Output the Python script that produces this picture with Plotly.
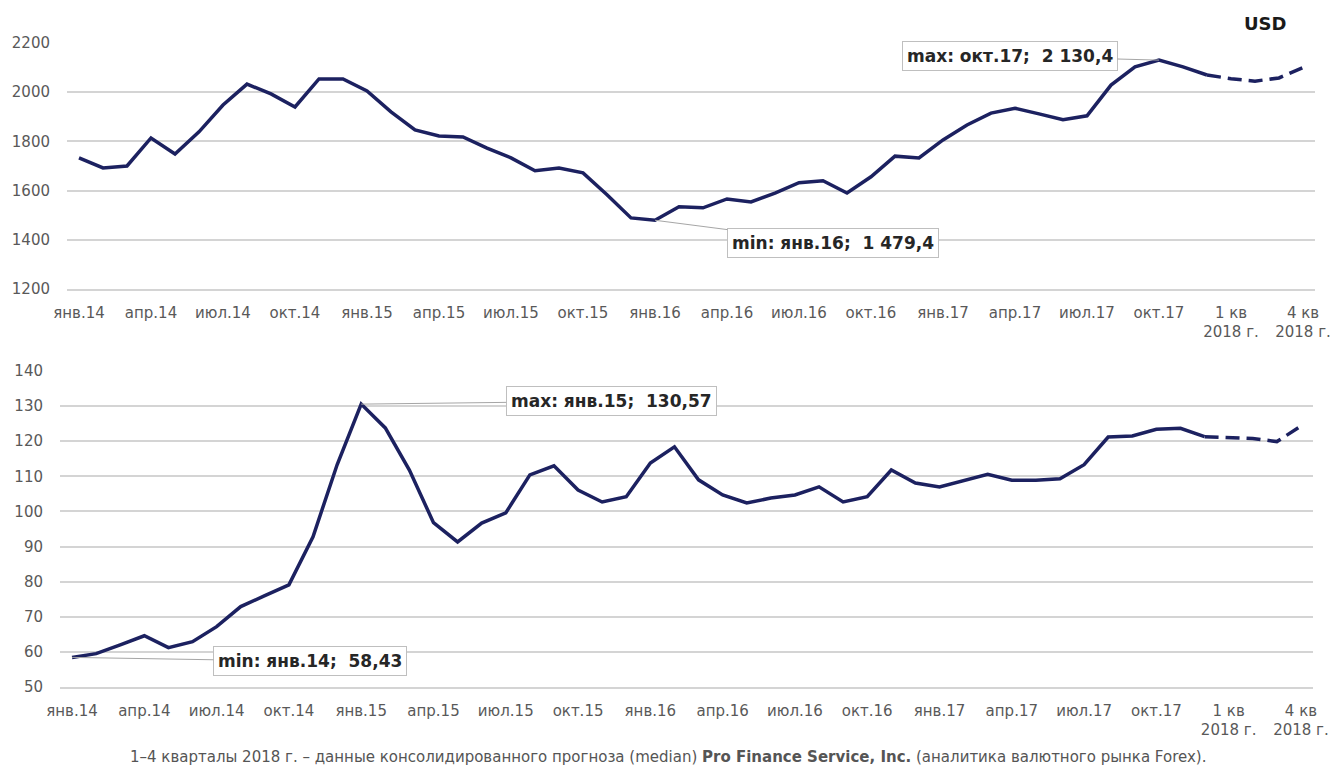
import plotly.graph_objects as go

# --- data -------------------------------------------------------------
months = ["янв.14", "апр.14", "июл.14", "окт.14", "янв.15", "апр.15", "июл.15", "окт.15",
          "янв.16", "апр.16", "июл.16", "окт.16", "янв.17", "апр.17", "июл.17", "окт.17",
          "1 кв<br>2018 г.", "4 кв<br>2018 г."]

# USD, monthly Jan 2014 - Dec 2017
usd_fact = [1733, 1692, 1700, 1814, 1749, 1839, 1948, 2033, 1993, 1940, 2054, 2054,
            2005, 1920, 1847, 1822, 1818, 1773, 1733, 1681, 1692, 1672, 1583, 1489,
            1479.4, 1534, 1530, 1566, 1554, 1590, 1632, 1640, 1590, 1656, 1740, 1733,
            1806, 1867, 1915, 1935, 1912, 1888, 1904, 2029, 2103, 2130.4, 2103, 2070]
# forecast 1-4 кв 2018
usd_fcst = [2055, 2045, 2058, 2100]

# second series, monthly Jan 2014 - Dec 2017
rub_fact = [58.43, 59.5, 62.0, 64.6, 61.2, 62.9, 67.2, 72.9, 76.0, 79.1, 92.8, 113.3,
            130.57, 123.8, 111.8, 96.8, 91.3, 96.7, 99.6, 110.4, 113.0, 106.1, 102.7, 104.2,
            113.8, 118.4, 109.0, 104.7, 102.4, 103.8, 104.7, 107.0, 102.7, 104.2, 111.8, 108.1,
            107.0, 108.7, 110.6, 108.9, 108.9, 109.3, 113.3, 121.2, 121.5, 123.4, 123.7, 121.3]
rub_fcst = [121.0, 120.8, 119.9, 124.3]

n_fact = len(usd_fact)
x_fact = list(range(n_fact))
x_fcst = list(range(n_fact - 1, n_fact + len(usd_fcst)))
tick_pos = list(range(0, n_fact + len(usd_fcst), 3))

LINE = "#1c2160"
GRID = "#d4d4d4"
TXT = "#595959"
FONT = "DejaVu Sans"
W, H = 1341, 771
OFF = 8  # page body margin


def px_x(v):
    return (v - OFF) / W


def px_y(v):
    return 1 - (v - OFF) / H


fig = go.Figure()

for xa, ya, fact, fcst in [("x", "y", usd_fact, usd_fcst), ("x2", "y2", rub_fact, rub_fcst)]:
    fig.add_trace(go.Scatter(
        x=x_fact, y=fact, xaxis=xa, yaxis=ya, mode="lines",
        line=dict(color=LINE, width=3.5), showlegend=False, hoverinfo="skip"
    ))
    fig.add_trace(go.Scatter(
        x=x_fcst, y=[fact[-1]] + fcst, xaxis=xa, yaxis=ya, mode="lines",
        line=dict(color=LINE, width=3.5, dash="14px,7px"), showlegend=False, hoverinfo="skip"
    ))

xcommon = dict(
    range=[-0.5, n_fact + len(usd_fcst) - 0.5], tickvals=tick_pos, ticktext=months,
    showgrid=False, zeroline=False, showline=True, linecolor=GRID, linewidth=1.5,
    ticks="", tickfont=dict(family=FONT, size=15, color=TXT), ticklabelstandoff=9,
    automargin=False,
)
ycommon = dict(
    showgrid=True, gridcolor=GRID, gridwidth=1.5, zeroline=False, showline=False,
    ticks="", tickfont=dict(family=FONT, size=15, color=TXT), automargin=False,
)

fig.update_layout(
    width=W, height=H,
    margin=dict(l=0, r=0, t=0, b=0),
    paper_bgcolor="white", plot_bgcolor="white",
    xaxis=dict(domain=[px_x(67), px_x(1315)], anchor="y", **xcommon),
    xaxis2=dict(domain=[px_x(60), px_x(1313)], anchor="y2", **xcommon),
    yaxis=dict(domain=[px_y(289), px_y(43)], anchor="x", range=[1200, 2200],
               dtick=200, ticklabelstandoff=16, **ycommon),
    yaxis2=dict(domain=[px_y(687), px_y(371)], anchor="x2", range=[50, 140],
                dtick=10, ticklabelstandoff=16, **ycommon),
)

box = dict(showarrow=True, arrowhead=0, arrowwidth=1, arrowcolor="#a6a6a6",
           bordercolor="#bfbfbf", borderwidth=1, borderpad=4, bgcolor="white",
           font=dict(family=FONT, size=17, color="#262626"))

fig.add_annotation(x=45, y=2130.4, xref="x", yref="y", ax=-149, ay=-4,
                   text="<b>max: окт.17;  2 130,4</b>", **box)
fig.add_annotation(x=24, y=1479.4, xref="x", yref="y", ax=178, ay=23,
                   text="<b>min: янв.16;  1 479,4</b>", **box)
fig.add_annotation(x=12, y=130.57, xref="x2", yref="y2", ax=250, ay=-3,
                   text="<b>max: янв.15;  130,57</b>", **box)
fig.add_annotation(x=0, y=58.43, xref="x2", yref="y2", ax=238, ay=4,
                   text="<b>min: янв.14;  58,43</b>", **box)

fig.add_annotation(x=px_x(1265), y=px_y(23), xref="paper", yref="paper",
                   xanchor="center", yanchor="middle", showarrow=False, text="<b>USD</b>",
                   font=dict(family=FONT, size=18, color="#1a1a1a"))

fig.add_annotation(x=px_x(668), y=px_y(757), xref="paper", yref="paper",
                   xanchor="center", yanchor="middle", showarrow=False,
                   text="1–4 кварталы 2018 г. – данные консолидированного прогноза (median) "
                        "<b>Pro Finance Service, Inc.</b> (аналитика валютного рынка Forex).",
                   font=dict(family=FONT, size=15, color="#555555"))

fig.write_html("out.html")
